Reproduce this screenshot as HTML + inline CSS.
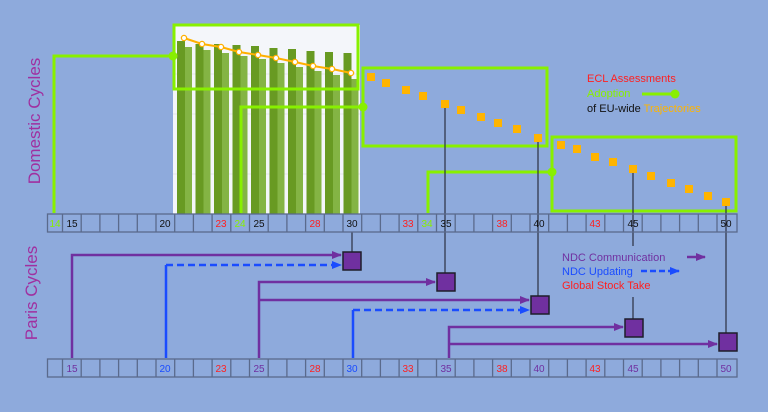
<!DOCTYPE html>
<html><head><meta charset="utf-8"><style>
html,body{margin:0;padding:0;background:#8eaadc;}
svg{display:block;font-family:"Liberation Sans",sans-serif;}
</style></head><body>
<svg width="768" height="412" viewBox="0 0 768 412" xmlns="http://www.w3.org/2000/svg">
<defs>
<marker id="ap" markerWidth="10" markerHeight="8" refX="9" refY="4" orient="auto" markerUnits="userSpaceOnUse"><path d="M0,0 L10,4 L0,8 Z" fill="#7030a0"/></marker>
<marker id="ab" markerWidth="10" markerHeight="8" refX="9" refY="4" orient="auto" markerUnits="userSpaceOnUse"><path d="M0,0 L10,4 L0,8 Z" fill="#1a4cff"/></marker>
</defs>
<rect width="768" height="412" fill="#8eaadc"/>
<!-- chart background -->
<rect x="173" y="25" width="187" height="189" fill="#f4f6fa"/>
<g stroke="#e4e6ea" stroke-width="1"><line x1="173" y1="74" x2="360" y2="74"/><line x1="173" y1="114" x2="360" y2="114"/><line x1="173" y1="174" x2="360" y2="174"/></g>
<g>
<rect x="177" y="41" width="8" height="173" fill="#689a22"/><rect x="185" y="47" width="7" height="167" fill="#84b444"/>
<rect x="195.5" y="44" width="8" height="170" fill="#689a22"/><rect x="203.5" y="50" width="7" height="164" fill="#84b444"/>
<rect x="214" y="44" width="8" height="170" fill="#689a22"/><rect x="222" y="53" width="7" height="161" fill="#84b444"/>
<rect x="232.5" y="45" width="8" height="169" fill="#689a22"/><rect x="240.5" y="56" width="7" height="158" fill="#84b444"/>
<rect x="251" y="46" width="8" height="168" fill="#689a22"/><rect x="259" y="59" width="7" height="155" fill="#84b444"/>
<rect x="269.5" y="48" width="8" height="166" fill="#689a22"/><rect x="277.5" y="63" width="7" height="151" fill="#84b444"/>
<rect x="288" y="49" width="8" height="165" fill="#689a22"/><rect x="296" y="67" width="7" height="147" fill="#84b444"/>
<rect x="306.5" y="51" width="8" height="163" fill="#689a22"/><rect x="314.5" y="71" width="7" height="143" fill="#84b444"/>
<rect x="325" y="52" width="8" height="162" fill="#689a22"/><rect x="333" y="75" width="7" height="139" fill="#84b444"/>
<rect x="343.5" y="53" width="8" height="161" fill="#689a22"/><rect x="351.5" y="79" width="7" height="135" fill="#84b444"/>
</g>
<polyline points="184,38 202,44 221,47 239,52 258,55 276,58 295,62 313,66 332,69 351,73" fill="none" stroke="#ffb000" stroke-width="2"/>
<g fill="#fff" stroke="#ffb000" stroke-width="1.3">
<circle cx="184" cy="38" r="2.6"/><circle cx="202" cy="44" r="2.6"/><circle cx="221" cy="47" r="2.6"/><circle cx="239" cy="52" r="2.6"/><circle cx="258" cy="55" r="2.6"/><circle cx="276" cy="58" r="2.6"/><circle cx="295" cy="62" r="2.6"/><circle cx="313" cy="66" r="2.6"/><circle cx="332" cy="69" r="2.6"/><circle cx="351" cy="73" r="2.6"/>
</g>
<!-- green boxes & lines -->
<g fill="none" stroke="#88f000" stroke-width="3">
<rect x="174" y="25" width="184" height="64"/>
<rect x="363" y="68" width="184" height="78"/>
<rect x="552" y="137" width="184" height="74"/>
<polyline points="54,213 54,56 173,56"/>
<polyline points="241,213 241,107 363,107"/>
<polyline points="428,213 428,172 552,172"/>
</g>
<g fill="#88f000"><circle cx="173" cy="56" r="4.5"/><circle cx="363" cy="107" r="4.5"/><circle cx="552" cy="172" r="4.5"/></g>
<!-- black lines -->
<g stroke="#2a2f40" stroke-width="1.2">
<line x1="445" y1="104" x2="445" y2="273"/>
<line x1="538" y1="138" x2="538" y2="296"/>
<line x1="633" y1="169" x2="633" y2="246"/>
<line x1="633" y1="297" x2="633" y2="319"/>
<line x1="726" y1="202" x2="726" y2="333"/>
<line x1="352" y1="232" x2="352" y2="252"/>
</g>
<!-- orange squares -->
<g fill="#ffb400">
<rect x="367" y="73" width="8" height="8"/><rect x="382" y="79" width="8" height="8"/><rect x="402" y="86" width="8" height="8"/><rect x="419" y="92" width="8" height="8"/><rect x="441" y="100" width="8" height="8"/><rect x="457" y="106" width="8" height="8"/><rect x="477" y="113" width="8" height="8"/><rect x="494" y="119" width="8" height="8"/><rect x="513" y="125" width="8" height="8"/><rect x="534" y="134" width="8" height="8"/>
<rect x="557" y="141" width="8" height="8"/><rect x="573" y="145" width="8" height="8"/><rect x="591" y="153" width="8" height="8"/><rect x="609" y="158" width="8" height="8"/><rect x="629" y="165" width="8" height="8"/><rect x="647" y="172" width="8" height="8"/><rect x="667" y="179" width="8" height="8"/><rect x="685" y="185" width="8" height="8"/><rect x="704" y="192" width="8" height="8"/><rect x="722" y="198" width="8" height="8"/>
</g>
<!-- timelines -->
<g id="tl" fill="none" stroke="#5a6a8c" stroke-width="1.3">
<rect x="47.5" y="214" width="689.5" height="18"/>
<path d="M62.5,214v18M81.2,214v18M99.9,214v18M118.6,214v18M137.3,214v18M156,214v18M174.7,214v18M193.4,214v18M212.1,214v18M230.8,214v18M249.5,214v18M268.2,214v18M286.9,214v18M305.6,214v18M324.3,214v18M343,214v18M361.7,214v18M380.4,214v18M399.1,214v18M417.8,214v18M436.5,214v18M455.2,214v18M473.9,214v18M492.6,214v18M511.3,214v18M530,214v18M548.7,214v18M567.4,214v18M586.1,214v18M604.8,214v18M623.5,214v18M642.2,214v18M660.9,214v18M679.6,214v18M698.3,214v18M717,214v18"/>
</g>
<use href="#tl" transform="translate(0,145)"/>
<g font-size="10" text-anchor="middle">
<text x="55" y="227" fill="#88f000">14</text>
<text x="72" y="227" fill="#111">15</text>
<text x="165" y="227" fill="#111">20</text>
<text x="221" y="227" fill="#ff2020">23</text>
<text x="240" y="227" fill="#88f000">24</text>
<text x="259" y="227" fill="#111">25</text>
<text x="315" y="227" fill="#ff2020">28</text>
<text x="352" y="227" fill="#111">30</text>
<text x="408" y="227" fill="#ff2020">33</text>
<text x="427" y="227" fill="#88f000">34</text>
<text x="446" y="227" fill="#111">35</text>
<text x="502" y="227" fill="#ff2020">38</text>
<text x="539" y="227" fill="#111">40</text>
<text x="595" y="227" fill="#ff2020">43</text>
<text x="633" y="227" fill="#111">45</text>
<text x="726" y="227" fill="#111">50</text>
<text x="72" y="372" fill="#7030a0">15</text>
<text x="165" y="372" fill="#1a4cff">20</text>
<text x="221" y="372" fill="#ff2020">23</text>
<text x="259" y="372" fill="#7030a0">25</text>
<text x="315" y="372" fill="#ff2020">28</text>
<text x="352" y="372" fill="#1a4cff">30</text>
<text x="408" y="372" fill="#ff2020">33</text>
<text x="446" y="372" fill="#7030a0">35</text>
<text x="502" y="372" fill="#ff2020">38</text>
<text x="539" y="372" fill="#7030a0">40</text>
<text x="595" y="372" fill="#ff2020">43</text>
<text x="633" y="372" fill="#7030a0">45</text>
<text x="726" y="372" fill="#7030a0">50</text>
</g>
<!-- Paris arrows -->
<g fill="none" stroke-width="2.5">
<polyline points="72,358 72,255 341,255" stroke="#7030a0" marker-end="url(#ap)"/>
<line x1="166" y1="358" x2="166" y2="265" stroke="#1a4cff"/>
<line x1="166" y1="265" x2="341" y2="265" stroke="#1a4cff" stroke-dasharray="7,4" marker-end="url(#ab)"/>
<polyline points="259,358 259,282 435,282" stroke="#7030a0" marker-end="url(#ap)"/>
<line x1="259" y1="300" x2="529" y2="300" stroke="#7030a0" marker-end="url(#ap)"/>
<line x1="353" y1="358" x2="353" y2="310" stroke="#1a4cff"/>
<line x1="353" y1="310" x2="529" y2="310" stroke="#1a4cff" stroke-dasharray="7,4" marker-end="url(#ab)"/>
<polyline points="449,358 449,327 623,327" stroke="#7030a0" marker-end="url(#ap)"/>
<line x1="449" y1="344" x2="717" y2="344" stroke="#7030a0" marker-end="url(#ap)"/>
</g>
<g fill="#7030a0" stroke="#1e1e2a" stroke-width="1.5">
<rect x="343" y="252" width="18" height="18"/>
<rect x="437" y="273" width="18" height="18"/>
<rect x="531" y="296" width="18" height="18"/>
<rect x="625" y="319" width="18" height="18"/>
<rect x="719" y="333" width="18" height="18"/>
</g>
<!-- legends -->
<g font-size="11">
<text x="587" y="82" fill="#ff2020">ECL Assessments</text>
<text x="587" y="97" fill="#88f000">Adoption</text>
<text x="587" y="112" fill="#111">of EU-wide <tspan fill="#ffb400">Trajectories</tspan></text>
<text x="562" y="261" fill="#7030a0">NDC Communication</text>
<text x="562" y="275" fill="#1a4cff">NDC Updating</text>
<text x="562" y="289" fill="#ff2020">Global Stock Take</text>
</g>
<line x1="642" y1="94" x2="675" y2="94" stroke="#88f000" stroke-width="3"/>
<circle cx="675" cy="94" r="4.5" fill="#88f000"/>
<line x1="687" y1="257" x2="705" y2="257" stroke="#7030a0" stroke-width="2.5" marker-end="url(#ap)"/>
<line x1="641" y1="271" x2="679" y2="271" stroke="#1a4cff" stroke-width="2.5" stroke-dasharray="6,3" marker-end="url(#ab)"/>
<text transform="translate(40,121) rotate(-90)" text-anchor="middle" font-size="17" fill="#a030a0">Domestic Cycles</text>
<text transform="translate(37,293) rotate(-90)" text-anchor="middle" font-size="17" fill="#a030a0">Paris Cycles</text>
</svg>
</body></html>
